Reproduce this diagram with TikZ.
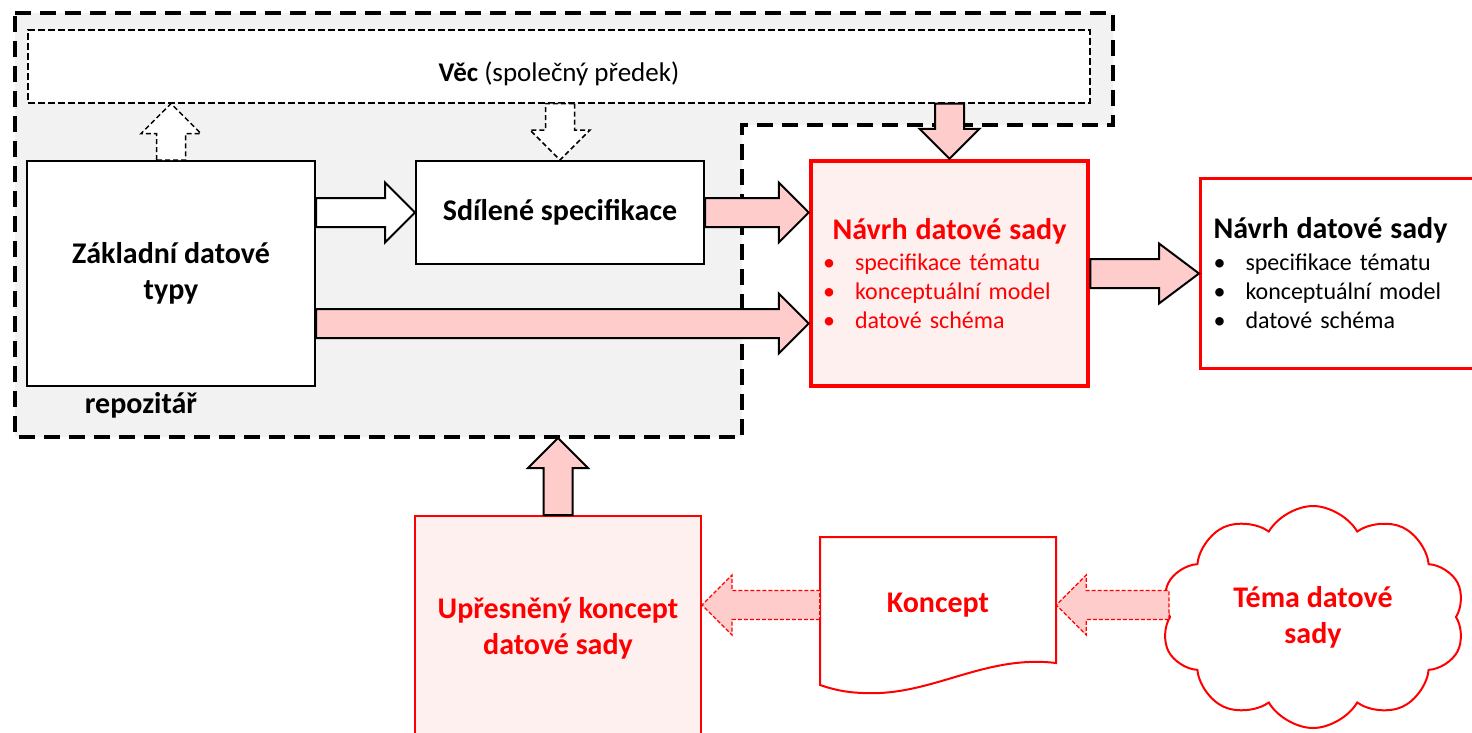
\documentclass[tikz,border=0pt]{standalone}
\usepackage{fontspec}
\setmainfont{Carlito}
\usetikzlibrary{shapes,calc}

\definecolor{repogray}{HTML}{F2F2F2}
\definecolor{arrowpink}{HTML}{FFCCCC}
\definecolor{boxpink}{HTML}{FFF0F0}

\newcommand{\titlesize}{\fontsize{30}{36}\selectfont}
\newcommand{\listsize}{\fontsize{24}{29}\selectfont}
\newcommand{\vecsize}{\fontsize{27}{32}\selectfont}
\newcommand{\listitem}[1]{\makebox[32pt][l]{\textbullet}#1}

% block arrow: [head length]{style}{from}{to}
\newcommand{\blockarrow}[4][30]{%
  \draw[#2] let \p1=(#3), \p2=(#4),
      \n1={veclen(\x2-\x1,\y2-\y1)}, \n2={(\x2-\x1)/\n1}, \n3={(\y2-\y1)/\n1},
      \n4={\n1-#1} in
    ({\x1-\n3*14.5},{\y1+\n2*14.5})
    -- ({\x1+\n2*\n4-\n3*14.5},{\y1+\n3*\n4+\n2*14.5})
    -- ({\x1+\n2*\n4-\n3*30},{\y1+\n3*\n4+\n2*30})
    -- (\x2,\y2)
    -- ({\x1+\n2*\n4+\n3*30},{\y1+\n3*\n4-\n2*30})
    -- ({\x1+\n2*\n4+\n3*14.5},{\y1+\n3*\n4-\n2*14.5})
    -- ({\x1+\n3*14.5},{\y1-\n2*14.5}) -- cycle;}

\tikzset{
  repo/.style={draw=black, fill=repogray, line width=3.5pt, dash pattern=on 16pt off 9pt},
  ancestor/.style={draw, fill=white, line width=1.3pt, dash pattern=on 7pt off 3pt},
  blackbox/.style={draw, fill=white, line width=2pt, font=\titlesize\bfseries, align=center},
  redbox/.style={draw=red, fill=boxpink, text=red, line width=2pt, font=\titlesize\bfseries, align=center},
  hollowarrow/.style={draw, fill=white, line width=2pt},
  dashedhollow/.style={draw, fill=white, line width=1.5pt, dash pattern=on 5pt off 3pt},
  pinkarrow/.style={draw, fill=arrowpink, line width=2pt},
  dashedpink/.style={draw=red, fill=arrowpink, line width=1.3pt, dash pattern=on 4pt off 2pt},
}

\begin{document}
\begin{tikzpicture}[x=1pt, y=-1pt]
    \useasboundingbox (0,0) rectangle (1472,732);

    % repository
    \draw [repo] (15,13) -- (1113,13) -- (1113,125) -- (742,125) -- (742,437) -- (15,437) -- cycle;
    \node [ancestor, minimum width=1062pt, minimum height=73pt, text height=29pt, text depth=0pt] (vec) at (559,66.5)
        {\vecsize\textbf{Věc} (společný předek)};
    \node [blackbox, minimum width=288pt, minimum height=225pt] (zakl) at (171,273.5)
        {Základní datové\\typy};
    \node [blackbox, minimum width=288pt, minimum height=103pt] (spec) at (560,212.5)
        {Sdílené specifikace};
    \node [font=\titlesize\bfseries] (repolabel) at (141,405) {repozitář};
    \coordinate (repo bottom) at (556,438);

    % dataset design
    \node [redbox, line width=4.5pt, minimum width=277pt, minimum height=225pt,
           inner xsep=12pt, text width=253pt, align=left, font=\listsize] (navrh) at (949.5,273.5)
        {\makebox[\hsize]{\titlesize\bfseries Návrh datové sady}\\[2pt]
         \listitem{specifikace tématu}\\
         \listitem{konceptuální model}\\
         \listitem{datové schéma}};
    \node [draw=red, fill=white, line width=3pt, anchor=west, minimum height=190pt,
           inner xsep=13pt, text width=280pt, align=left, font=\listsize] (navrh2) at (1199,273)
        {{\titlesize\bfseries Návrh datové sady}\\[3pt]
         \listitem{specifikace tématu}\\
         \listitem{konceptuální model}\\
         \listitem{datové schéma}};

    % concept
    \node [redbox, minimum width=286pt, minimum height=224pt] (upres) at (558,628)
        {Upřesněný koncept\\datové sady};
    \draw [red, fill=white, line width=2pt] (820,537) -- (1056,537) -- (1056,663)
        .. controls (990,655) and (940,690) .. (880,693)
        .. controls (850,694) and (835,690) .. (820,685) -- cycle;
    \node [font=\titlesize\bfseries, text=red, minimum width=236pt, minimum height=136pt] (koncept) at (938,605) {Koncept};
    \node [cloud, cloud puffs=10, cloud puff arc=120, aspect=1.4, draw=red, fill=white,
           line width=2pt, text=red, font=\titlesize\bfseries, align=center, inner sep=0pt,
           minimum width=304pt, minimum height=222pt] (cloud) at (1313,617) {Téma datové\\sady};

    % arrows
    \blockarrow{hollowarrow}{zakl.east |- spec.west}{spec.west}
    \blockarrow{pinkarrow}{spec.east}{navrh.west |- spec.east}
    \blockarrow{pinkarrow}{[yshift=-50pt]zakl.east}{[yshift=-50pt]navrh.west}
    \blockarrow{pinkarrow}{vec.south -| navrh.north}{navrh.north}
    \blockarrow[40]{pinkarrow}{navrh.east}{navrh2.west |- navrh.east}
    \blockarrow{dashedhollow}{zakl.north}{vec.south -| zakl.north}
    \blockarrow{dashedhollow}{vec.south -| spec.north}{spec.north}
    \blockarrow{pinkarrow}{upres.north}{repo bottom -| upres.north}
    \blockarrow{dashedpink}{koncept.west}{upres.east |- koncept.west}
    \blockarrow{dashedpink}{cloud.west |- koncept.east}{koncept.east}
\end{tikzpicture}
\end{document}
